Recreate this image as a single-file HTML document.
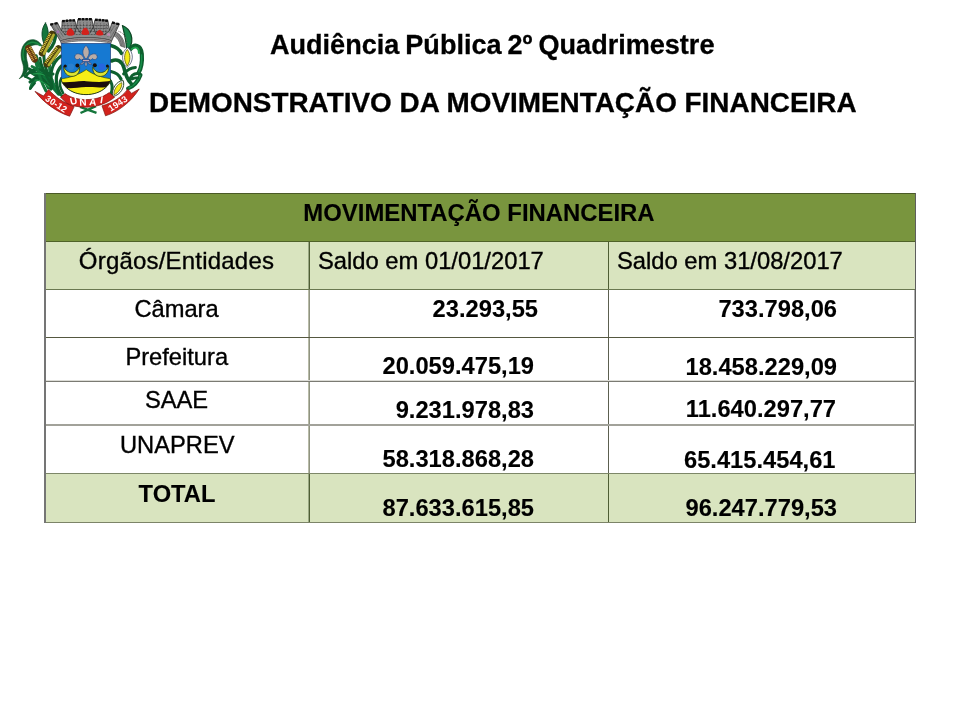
<!DOCTYPE html>
<html>
<head>
<meta charset="utf-8">
<style>
html,body{margin:0;padding:0;}
body{width:960px;height:720px;background:#fff;position:relative;overflow:hidden;font-family:"Liberation Sans",sans-serif;color:#000;}
.t{position:absolute;white-space:nowrap;line-height:1;will-change:transform;}
.b{font-weight:bold;-webkit-text-stroke:0.12px #000 !important;}
#t1{left:269.6px;top:31.6px;font-size:27.05px;word-spacing:-1.45px;}
#t2{left:149.4px;top:88.8px;font-size:27.9px;}
#t1,#t2{-webkit-text-stroke:0.3px #000 !important;}
.bg{position:absolute;}
.hl{position:absolute;left:44px;width:872px;height:1px;background:#4f6228;}
.vl{position:absolute;width:1px;background:#55682e;}
.c{position:absolute;white-space:nowrap;line-height:1;font-size:24px;will-change:transform;-webkit-text-stroke:0.35px #000;}
.s{font-size:23.7px;}
.ctr{text-align:center;}
.r{text-align:right;}
</style>
</head>
<body>
<svg id="crest" width="160" height="130" viewBox="0 0 160 130" style="position:absolute;left:0;top:0;">
<defs>
<filter id="bl" x="-5%" y="-5%" width="110%" height="110%"><feGaussianBlur stdDeviation="0.5"/></filter>
<clipPath id="sh"><path d="M61.4 43.5 H110.5 V79 C110.5 81.5 109.6 83 108.4 84.6 C107.5 86 106.5 87 105.2 88 C100.5 92.2 93.5 94.6 86 94.6 C78.5 94.6 71.5 92.2 66.8 88 C65.5 87 64.5 86 63.6 84.6 C62.3 83 61.4 81.5 61.4 79 Z"/></clipPath>
</defs>
<g filter="url(#bl)">

<!-- LEFT FOLIAGE -->
<g fill="none" stroke-linecap="round" stroke-linejoin="round">
  <!-- big outer arc leaf -->
  <path d="M19.6 78.5 C24 73 24.4 68 22.2 62 C19.6 53 21.6 45 27.5 41 C33.5 37.8 39 40.5 42.5 46.5 C38 44 32.5 44 29 47.5 C25.6 51.5 26 57.5 27.6 63 C29.2 69 27 75 19.6 78.5 Z" fill="#0e5e2e" stroke="#0a4a24" stroke-width="0.6"/>
  <path d="M23.8 60 C21.8 52.5 23.8 46.2 28.4 43.4 C32.6 41.4 37 42.6 40 45.4" stroke="#1c8c44" stroke-width="1.5"/>
  <!-- up-pointing leaf -->
  <path d="M45.5 23 C41 29 41 37 44.5 45 L47 46 C49 38 49 29 45.5 23 Z" fill="#13753e" stroke="#0a4422" stroke-width="0.9"/>
  <!-- leaf behind corn to the right -->
  <path d="M55.5 33 C56 40 53 46 48.5 51" stroke="#0e5e2e" stroke-width="3.2"/>
  <!-- stems -->
  <path d="M36 56 C38 64 45 78 58.5 94" stroke="#12753a" stroke-width="3.4"/>
  <path d="M44 52 C43 64 48 80 60.5 94.5" stroke="#0e5e2e" stroke-width="3"/>
  <path d="M50 62 C48 72 52 86 62 96" stroke="#12753a" stroke-width="2.8"/>
  <!-- lower-left tangle -->
  <path d="M25.5 76.5 C31 68 42 67 51 76" stroke="#0e5e2e" stroke-width="3"/>
  <path d="M30.5 88 C33 79 42 75 52 80" stroke="#12753a" stroke-width="3"/>
  <path d="M32 66.5 C38 69 45 77 48 88" stroke="#12753a" stroke-width="2.8"/>
  <path d="M30 72 C36 75 44 82 52 88" stroke="#0e5e2e" stroke-width="2.6"/>
  <path d="M24.5 76 L31 79.5 M30 89 L35 83" stroke="#0e5e2e" stroke-width="2"/>
  <path d="M29 69 C36 72 44 80 51 89" stroke="#0e5e2e" stroke-width="3.2"/>
  <path d="M30 82 C37 76 45 73 53 74" stroke="#0e5e2e" stroke-width="3"/>
  <path d="M36 62 C38 72 41 82 46 91" stroke="#12753a" stroke-width="3"/>
  <path d="M33 74 C38 73 44 74 49 78 M35 80 C40 80 45 83 49 87" stroke="#22994c" stroke-width="1.2"/>
  <path d="M40 58 C41 66 45 74 50 82" stroke="#0e5e2e" stroke-width="2.6"/>
  <!-- leaves hugging the shield -->
  <path d="M61 56 C53 62 49 72 52 86" stroke="#0e5e2e" stroke-width="3"/>
  <path d="M61.5 66 C55.5 72 54.5 82 59.5 93" stroke="#0e5e2e" stroke-width="3.2"/>
  <path d="M61 48 C57 52 54 57 52 63" stroke="#12753a" stroke-width="2.6"/>
  <path d="M61.5 78 C59 82 60 88 63 93" stroke="#0e5e2e" stroke-width="2.6"/>
</g>
<!-- corn ears -->
<g fill="none" stroke-linecap="round">
  <path d="M52 34 L42.2 53" stroke="#463a0a" stroke-width="6.8"/>
  <path d="M50.2 33.6 L40.8 52" stroke="#e6d44a" stroke-width="2.6" stroke-dasharray="1 0.8" stroke-linecap="butt"/>
  <path d="M53.6 34.8 L44 53.6" stroke="#b4ae30" stroke-width="2.6"/>
  <path d="M58.4 48.6 L47.2 64" stroke="#463a0a" stroke-width="6.8"/>
  <path d="M56.8 47.6 L45.6 63" stroke="#e6d44a" stroke-width="2.6" stroke-dasharray="1 0.8" stroke-linecap="butt"/>
  <path d="M60 49.6 L48.8 65" stroke="#b4ae30" stroke-width="2.6"/>
  <path d="M28.4 48 L34.6 59.4" stroke="#5e320e" stroke-width="6.4"/>
  <path d="M26.8 48.4 L33.4 60.4" stroke="#dcaa48" stroke-width="2.2" stroke-dasharray="1 0.8" stroke-linecap="butt"/>
  <path d="M29.8 46.8 L36.4 58.8" stroke="#ccb444" stroke-width="2.2" stroke-dasharray="1 0.8" stroke-linecap="butt"/>
</g>

<!-- RIGHT FOLIAGE -->
<g fill="none" stroke-linecap="round" stroke-linejoin="round">
  <path d="M122.4 25.5 C131 29 134.5 39 129.5 48.5 L126.5 48 C126 40 124 32 122.4 25.5 Z" fill="#15854a" stroke="#0a4422" stroke-width="1.2"/>
  <!-- outer arc leaf -->
  <path d="M130 49.5 C134 43.5 141 44.5 141.8 54 C142.4 62 141.5 68 138.5 73" stroke="#0e5e2e" stroke-width="4.2"/>
  <path d="M132 49 C135.5 46 139 47.5 139 53" stroke="#1fa04c" stroke-width="2"/>
  <path d="M140.5 75 C138 82 134 86 128 88.5" stroke="#0e5e2e" stroke-width="4"/>
  <path d="M140.2 75.5 C138 81.5 134 85.5 129 87.8" stroke="#17904a" stroke-width="1.4"/>
  <path d="M141.6 55 C142 62 141.2 67.5 138.8 72" stroke="#17904a" stroke-width="1.4"/>
  <!-- leaves hugging the shield right -->
  <path d="M110.8 45.5 C116 47 120 50 121.5 53.5" stroke="#0e5e2e" stroke-width="3.4"/>
  <path d="M111.5 61 C117 58.5 122 61 124 68 C125.5 75 127.5 80 131.5 84" stroke="#0e5e2e" stroke-width="3.6"/>
  <path d="M111 71.5 C116 72.5 119.5 75.5 121 79" stroke="#0e5e2e" stroke-width="3.2"/>
  <path d="M110.5 81 C112.5 85 112.5 90 111 94" stroke="#0e5e2e" stroke-width="3"/>
  <!-- curls -->
  <path d="M123.5 74 C127.5 69.5 132 67.5 135.5 67.5 M129.5 81 C130.5 76 133.5 73.5 137.5 73.5 M132 79 C134 78 136 77.5 138 78" stroke="#0e5e2e" stroke-width="2.8"/>
</g>
<!-- cog wheel (grey) right of crown -->
<path d="M115.3 32 C120 33.5 124.5 39 125 47.5 L120.5 46 C119.5 41 117 37 113 35.5 Z" fill="#8f8f8f" stroke="#444" stroke-width="0.6"/>
<path d="M117 33.5 C121 36 123 41 123.2 46.5 M115.5 34.3 C119 36.5 121.2 41 121.6 46" fill="none" stroke="#4a4a4a" stroke-width="0.5"/>
<path d="M118.5 31.3 C123 32.5 126.5 37 127 43.5" fill="none" stroke="#6a5a5a" stroke-width="0.9" stroke-dasharray="1 0.8"/>
<!-- yellow pods -->
<path d="M127.5 47.5 C121 52 121 62 127 67.5 C134 62 134 52 127.5 47.5 Z" fill="#fff" stroke="#4a5470" stroke-width="0.8"/>
<path d="M127.3 49.5 C123.6 54 123.8 61 127.2 66 C130.8 61 130.8 54 127.3 49.5 Z" fill="#f3ea17" stroke="#5e5e12" stroke-width="0.8"/>
<g transform="rotate(33 118 88.5)">
  <path d="M118 79 C112.5 83 112.5 93 118 98 C123.5 93 123.5 83 118 79 Z" fill="#fff" stroke="#2c4a2c" stroke-width="0.9"/>
  <path d="M118 81.5 C115 85 115 92 118 96 C121 92 121 85 118 81.5 Z" fill="#f3ea17" stroke="#5e5e12" stroke-width="0.7"/>
</g>

<!-- CROWN -->
<g>
  <path d="M50.5 24.3 L57.6 23 L61.6 31 L62.2 20.8 L74.8 20.2 L76.4 26.8 L78 19 L91.8 19 L93.4 26.8 L95 19.6 L107.8 20.3 L109.6 30.4 L112 22.6 L119.4 24 L111.6 41 C103 36.5 69 36.5 60.4 41.2 Z" fill="#8c8c8c" stroke="#303030" stroke-width="0.8"/>
  <!-- texture -->
  <g stroke="#333" stroke-width="0.7" stroke-dasharray="0.8 0.7" fill="none">
    <path d="M53 26.5 L61.5 39 M56 25.5 L63.5 37 M64 23.5 L66 35 M67.5 23.5 L68.5 34 M71 23.5 L71.5 34 M74 23.5 L74.3 34 M80 22.5 L80.5 33 M83.5 22.5 L83.7 33 M87 22.5 L86.8 33 M90.5 22.5 L90 33 M97 23.5 L96.5 34 M100.5 23.5 L100 34 M104 23.5 L103 34 M106.5 24 L105.5 35 M114 26.5 L107.5 37 M117 27 L110 38.5"/>
    <path d="M62 25.5 H108 M62 28.5 H108 M63 31.5 H107 M64 34.5 H106"/>
  </g>
  <path d="M76.4 26.8 L74.6 34 M76.4 26.8 L80.8 33.5 M93.4 26.8 L89.6 33.5 M93.4 26.8 L95.8 34 M61.6 31 L65.8 35 M109.6 30.4 L104 35" fill="none" stroke="#2e2e2e" stroke-width="0.8"/>
  <!-- band -->
  <path d="M60.4 41.2 C69 36.5 103 36.5 111.6 41 L110.8 43.6 C102 39.8 70 39.8 61.3 43.8 Z" fill="#a5a5a5" stroke="#4a4a4a" stroke-width="0.7"/>
  <path d="M61 42.4 C70 38.2 102 38.2 111 42.2" fill="none" stroke="#6e5858" stroke-width="0.8"/>
  <!-- merlons -->
  <g fill="#0b0b0b">
    <rect x="50.2" y="23.2" width="2.8" height="2.3" transform="rotate(-10 51.6 24.3)"/>
    <rect x="54.6" y="22.2" width="3" height="2.3" transform="rotate(-10 56 23.3)"/>
    <rect x="62.2" y="19.9" width="2.6" height="2.4"/><rect x="65.8" y="19.5" width="2.4" height="2.4"/><rect x="69.2" y="19.2" width="2.4" height="2.4"/><rect x="72.4" y="19.2" width="2.6" height="2.4"/>
    <rect x="78" y="18" width="2.8" height="2.4"/><rect x="81.8" y="18" width="2.5" height="2.4"/><rect x="85.4" y="18" width="2.5" height="2.4"/><rect x="89" y="18" width="2.8" height="2.4"/>
    <rect x="95" y="18.6" width="2.7" height="2.4"/><rect x="98.6" y="18.8" width="2.4" height="2.4"/><rect x="102" y="19.1" width="2.4" height="2.4"/><rect x="105.2" y="19.5" width="2.7" height="2.4"/>
    <rect x="112" y="21.6" width="2.9" height="2.3" transform="rotate(10 113.4 22.7)"/>
    <rect x="116.2" y="22.7" width="3" height="2.3" transform="rotate(10 117.7 23.8)"/>
  </g>
  <!-- gems -->
  <path d="M70.3 28 C72.5 29 74.4 31.5 74.4 34.5 C73 36.2 68 36.4 66.4 34.6 C66.4 31.5 68 29 70.3 28 Z" fill="#d3201f"/>
  <path d="M85.3 27.4 C87.5 28.4 89.2 31 89.2 33.8 C88 35.4 82.8 35.4 81.4 33.8 C81.4 31 83 28.4 85.3 27.4 Z" fill="#d3201f"/>
  <path d="M99.6 29.8 C101.8 30.4 103.4 32.4 103.4 34.6 C102 36 97.4 35.8 96 34.4 C96 32.2 97.6 30.4 99.6 29.8 Z" fill="#d3201f"/>
  <rect x="56.6" y="30.6" width="2.6" height="2.6" fill="#a070b0"/>
  <rect x="107.2" y="33.2" width="2.8" height="2.6" fill="#c090b4"/>
</g>

<!-- SHIELD -->
<g clip-path="url(#sh)">
  <rect x="60" y="42" width="53" height="56" fill="#1279d2"/>
  <!-- yellow mound -->
  <path d="M60 79 C70 78 80 74 86.3 69.6 C92 74 102 78 113 79 V98 H60 Z" fill="#f6ee12"/>
  <path d="M60 79 C70 78 80 74 86.3 69.6 C92 74 102 78 113 79" fill="none" stroke="#2c4a12" stroke-width="0.7"/>
  <!-- black wave -->
  <path d="M62 82.2 C70 83 78 80.6 86 81.2 C94 81.8 102 82.6 111 80.8 L110 86.6 C103 88.8 95 86.4 86 87 C77 87.6 70 89 64 87.6 Z" fill="#1c0d08"/>
  <!-- crescents -->
  <g>
    <path d="M63.6 66.4 C63.6 73.4 67.8 76.4 72 76.4 C76.4 76.4 80.2 73 79.6 66.8 C78 70.6 75.4 72.6 72 72.6 C68.4 72.6 65.4 70.4 63.6 66.4 Z" fill="#dde430" stroke="#2b4010" stroke-width="0.8"/>
    <circle cx="65.2" cy="66" r="1.6" fill="#14100a"/><circle cx="77.4" cy="65.4" r="2" fill="#14100a"/>
    <circle cx="70.8" cy="66.8" r="3.4" fill="#2b80cf"/>
    <path d="M108.8 66.4 C108.8 73.4 104.6 76.4 100.4 76.4 C96 76.4 92.2 73 92.8 66.8 C94.4 70.6 97 72.6 100.4 72.6 C104 72.6 107 70.4 108.8 66.4 Z" fill="#dde430" stroke="#2b4010" stroke-width="0.8"/>
    <circle cx="94.8" cy="65.2" r="2" fill="#14100a"/><circle cx="107.4" cy="66" r="1.5" fill="#14100a"/>
    <circle cx="101.8" cy="66.8" r="3.4" fill="#2666e0"/>
  </g>
  <!-- fleur-de-lis -->
  <g fill="#b9aca6" stroke="#2a4a86" stroke-width="0.7">
    <path d="M86 45.4 C81.8 49.5 81.8 54.5 86 59.2 C90.2 54.5 90.2 49.5 86 45.4 Z"/>
    <path d="M84 58 C81.5 53 75.6 52.6 74.8 56.2 C74.2 59.4 78 60.6 79.6 58.6 C80.8 60.6 83 60.4 84 58 Z"/>
    <path d="M88 58 C90.5 53 96.4 52.6 97.2 56.2 C97.8 59.4 94 60.6 92.4 58.6 C91.2 60.6 89 60.4 88 58 Z"/>
    <rect x="82.6" y="59.6" width="6.8" height="2" fill="#c9a9b4"/>
    <path d="M86 61.6 C84.4 63 84.6 65.4 86 66.6 C87.4 65.4 87.6 63 86 61.6 Z"/>
    <path d="M83.6 61.8 C82 62.2 80.6 63.2 80.2 64.6 C82 64.8 83.6 64 84.4 62.6 Z M88.4 61.8 C90 62.2 91.4 63.2 91.8 64.6 C90 64.8 88.4 64 87.6 62.6 Z" fill="#8f8fa0"/>
  </g>
</g>
<!-- shield outline -->
<path d="M61.4 43.5 H110.5 V79" fill="none" stroke="#173a7a" stroke-width="0.7"/>
<path d="M61.4 79 V43.5" fill="none" stroke="#173a7a" stroke-width="0.7"/>
<path d="M61.4 79 C61.4 81.5 62.3 83 63.6 84.6 C64.5 86 65.5 87 66.8 88 C71.5 92.2 78.5 94.6 86 94.6 C93.5 94.6 100.5 92.2 105.2 88 C106.5 87 107.5 86 108.4 84.6 C109.6 83 110.5 81.5 110.5 79" fill="none" stroke="#2b3a10" stroke-width="1"/>
<path d="M64 88.5 C69 94.6 78 97 86 97 C94 97 103 94.6 108 88.5" fill="none" stroke="#fff" stroke-width="2"/>

<!-- RIBBON -->
<g>
  <!-- crossed stems under centre -->
  <path d="M80 106.8 L96.5 112.8 M96 106.2 L80.5 113" stroke="#12753a" stroke-width="2.4" fill="none"/>
  <!-- left -->
  <path d="M35 91.4 L43.5 96 L48.6 89.6 C55 97 64 103 74.2 106.6 L69.6 116.2 C57 112 44 103 35 91.4 Z" fill="#d3221f" stroke="#7a1410" stroke-width="0.7"/>
  <!-- right -->
  <path d="M139.2 89 L131.5 93.4 L127.8 89.2 C121 98 112 103 102 105.8 L105.5 115.8 C118 112 131 102 139.2 89 Z" fill="#d3221f" stroke="#7a1410" stroke-width="0.7"/>
  <!-- centre -->
  <path d="M60.6 97.2 C62.5 95.4 64 94.4 65 93.6 C72 98.4 79 99.6 86.2 99.6 C94 99.6 102 97.8 109.2 92.6 L114.6 97.2 C107 103.6 96 107.2 86.2 107.2 C78 107.2 72 105.8 66.6 103.2 Z" fill="#d3221f" stroke="#7a1410" stroke-width="0.7"/>
  <g font-family="Liberation Sans, sans-serif" font-weight="bold" fill="#fff" text-anchor="middle">
    <text x="0" y="0" font-size="9" transform="translate(54.6 106.6) rotate(33)" letter-spacing="0.2">30-12</text>
    <text x="0" y="0" font-size="9" transform="translate(119.6 106.2) rotate(-33)" letter-spacing="0.2">1943</text>
    <text x="0" y="0" font-size="10" transform="translate(74.2 104.2) rotate(-12)">U</text>
    <text x="0" y="0" font-size="10" transform="translate(83 105.6) rotate(-3)">N</text>
    <text x="0" y="0" font-size="10" transform="translate(92.6 105.2) rotate(5)">A</text>
    <text x="0" y="0" font-size="10" transform="translate(101 103.2) rotate(9)">Í</text>
  </g>
</g>
</g>
</svg>
<div id="t1" class="t b">Audiência Pública 2º Quadrimestre</div>
<div id="t2" class="t b">DEMONSTRATIVO DA MOVIMENTAÇÃO FINANCEIRA</div>

<!-- table backgrounds -->
<div class="bg" style="left:44px;top:193px;width:872px;height:48px;background:#79953e;"></div>
<div class="bg" style="left:44px;top:241px;width:872px;height:48px;background:#d9e4bf;"></div>
<div class="bg" style="left:44px;top:473px;width:872px;height:49px;background:#d9e4bf;"></div>

<!-- vertical lines -->
<div class="vl" style="left:308px;top:289px;height:184px;background:#b8bba8;"></div>
<div class="vl" style="left:309px;top:289px;height:184px;background:#8f9380;"></div>
<div class="vl" style="left:308px;top:241px;height:48px;background:#9aa884;"></div>
<div class="vl" style="left:309px;top:241px;height:48px;background:#4f5e34;"></div>
<div class="vl" style="left:308px;top:473px;height:49px;background:#9aa884;"></div>
<div class="vl" style="left:309px;top:473px;height:49px;background:#4f5e34;"></div>
<div class="vl" style="left:608px;top:289px;height:184px;background:#5c6050;"></div>
<div class="vl" style="left:608px;top:241px;height:48px;background:#4f5e34;"></div>
<div class="vl" style="left:608px;top:473px;height:49px;background:#4f5e34;"></div>

<!-- horizontal lines -->
<div class="hl" style="top:193px;background:#4a5a26;"></div>
<div class="hl" style="top:241px;background:#4f6228;"></div>
<div class="hl" style="top:289px;background:#6a7850;"></div>
<div class="hl" style="top:337px;background:#555840;"></div>
<div class="hl" style="top:380px;background:#dcdcd6;"></div>
<div class="hl" style="top:381px;background:#7b7b73;"></div>
<div class="hl" style="top:424px;height:2px;background:#a2a29a;"></div>
<div class="hl" style="top:473px;background:#7d8768;"></div>
<div class="hl" style="top:522px;background:#7c8468;"></div>

<!-- outer borders -->
<div class="vl" style="left:44px;top:193px;height:330px;width:2px;background:#757575;"></div>
<div class="vl" style="left:914px;top:290px;height:183px;background:#b0b0b0;"></div>
<div class="vl" style="left:915px;top:193px;height:330px;background:#5e5e5e;"></div>

<!-- header -->
<div class="c b ctr" style="left:44px;width:870px;top:201px;font-size:23.9px;">MOVIMENTAÇÃO FINANCEIRA</div>
<div class="c ctr" style="left:44px;width:265px;top:248.5px;letter-spacing:0.2px;">Órgãos/Entidades</div>
<div class="c" style="left:317.5px;top:248.5px;font-size:23.75px;">Saldo em 01/01/2017</div>
<div class="c" style="left:617px;top:248.5px;font-size:23.75px;">Saldo em 31/08/2017</div>

<!-- col 1 -->
<div class="c s ctr" style="left:44px;width:265px;top:298px;">Câmara</div>
<div class="c s ctr" style="left:44px;width:265.5px;top:345.5px;">Prefeitura</div>
<div class="c s ctr" style="left:44px;width:265px;top:389.3px;">SAAE</div>
<div class="c s ctr" style="left:44px;width:266.5px;top:433.7px;">UNAPREV</div>
<div class="c s b ctr" style="left:44px;width:266px;top:482.7px;">TOTAL</div>

<!-- col 2 -->
<div class="c s b r" style="left:309px;width:229px;top:298.3px;">23.293,55</div>
<div class="c s b r" style="left:309px;width:225px;top:355.3px;">20.059.475,19</div>
<div class="c s b r" style="left:309px;width:225px;top:399.3px;">9.231.978,83</div>
<div class="c s b r" style="left:309px;width:225px;top:448.3px;">58.318.868,28</div>
<div class="c s b r" style="left:309px;width:225px;top:497.3px;">87.633.615,85</div>

<!-- col 3 -->
<div class="c s b r" style="left:608px;width:229px;top:298.3px;">733.798,06</div>
<div class="c s b r" style="left:608px;width:229px;top:355.7px;">18.458.229,09</div>
<div class="c s b r" style="left:608px;width:228px;top:398.3px;">11.640.297,77</div>
<div class="c s b r" style="left:608px;width:227.5px;top:448.5px;">65.415.454,61</div>
<div class="c s b r" style="left:608px;width:229px;top:497.3px;">96.247.779,53</div>
</body>
</html>
